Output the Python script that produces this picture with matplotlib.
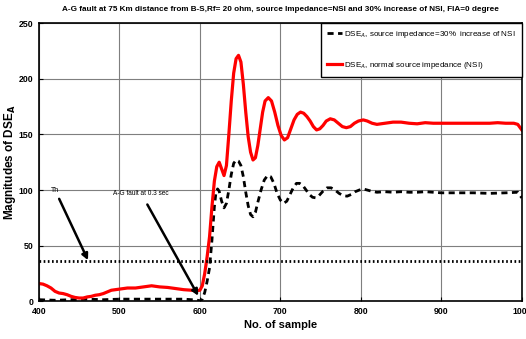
import matplotlib
matplotlib.use("Agg")
import matplotlib.pyplot as plt

# samples and magnitudes
x_nsi = [400, 405, 410, 415, 420, 425, 430, 435, 440, 445, 450, 455, 460, 465, 470,
         475, 480, 485, 490, 495, 500, 510, 520, 530, 540, 550, 560, 570, 580, 590,
         595, 600, 603, 606, 609, 612, 615, 618, 621, 624, 627, 630, 633, 636, 639,
         642, 645, 648, 651, 654, 657, 660, 663, 666, 669, 672, 675, 678, 681, 685,
         689, 693, 697, 701, 705, 709, 713, 717, 721, 725, 729, 733, 737, 741, 745,
         749, 753, 757, 762, 767, 772, 777, 782, 787, 792, 797, 803, 808, 814, 820,
         830, 840, 850, 860, 870, 880, 890, 900, 920, 940, 960, 970, 980, 990, 995, 1000]
y_nsi = [16, 15.5, 14, 12, 9, 7.5, 7, 6, 4.5, 3.5, 3, 3, 4, 4.5, 5.5,
         6, 7, 8.5, 10, 10.5, 11, 12, 12, 13, 14, 13, 12.5, 11.5, 10.5, 10,
         9.5, 10, 14, 25, 40, 58, 85, 108, 121, 125, 119, 113, 122, 150, 180,
         205, 218, 221, 215, 195, 170, 148, 134, 127, 129, 140, 155, 170, 180, 183,
         180, 170, 158, 149, 145, 147, 155, 163, 168, 170, 169, 166, 162, 157, 154,
         155, 158, 162, 164, 163, 160, 157, 156, 157, 160, 162, 163, 162, 160, 159,
         160, 161, 161, 160, 159.5, 160.5, 160, 160, 160, 160, 160, 160.5, 160, 160, 159, 154]

x_30 = [400, 420, 440, 460, 480, 500, 520, 540, 560, 580, 590, 597, 600, 603, 606,
        609, 612, 615, 618, 620, 622, 624, 627, 630, 633, 636, 639, 642, 645, 648,
        651, 654, 657, 660, 663, 666, 669, 672, 676, 680, 684, 688, 692, 696, 700,
        704, 708, 712, 716, 720, 724, 728, 732, 736, 740, 744, 748, 753, 758, 763,
        768, 773, 778, 783, 788, 793, 798, 803, 808, 813, 820, 830, 840, 850, 860,
        870, 880, 890, 900, 920, 940, 960, 980, 995, 1000]
y_30 = [1.5, 1, 1.5, 2, 1.5, 2, 2, 2, 2, 2, 1.5, 1, 0.5, 2, 8,
        18, 30, 55, 85, 98, 101, 99, 90, 84, 88, 100, 114, 124, 127, 126,
        122, 112, 98, 86, 78, 76, 80, 89, 100, 109, 113, 112, 106, 97, 91,
        88, 90, 96, 102, 106, 106, 104, 100, 96, 93.5, 93, 95, 99, 102, 102,
        100, 97, 95, 94.5, 96, 98.5, 100, 101, 100, 99, 98, 98.5, 98, 98.5, 98,
        98, 98.5, 98, 97.5, 97.5, 97.5, 97, 97.5, 98, 93]

threshold = 36.5

fnt = "Liberation Sans"

fig = plt.figure(figsize=(5.26, 3.39), dpi=100)
ax = fig.add_axes([0.074, 0.111, 0.918, 0.821])

ax.plot(x_30, y_30, color="black", lw=2, linestyle=(0, (2.2, 1.6)),
        label=r"DSE$_A$, source impedance=30%  increase of NSI")
ax.plot(x_nsi, y_nsi, color="red", lw=2.3,
        label=r"DSE$_A$, normal source impedance (NSI)")
ax.axhline(threshold, color="black", lw=2, linestyle=(0, (0.6, 0.9)))

ax.set_xlim(400, 1000)
ax.set_ylim(0, 250)
ax.set_xticks(range(400, 1001, 100))
ax.set_yticks(range(0, 251, 50))
ax.grid(True, color="#7f7f7f", lw=0.8)
ax.tick_params(direction="in", length=3, labelsize=6.3, pad=4)
for lbl in ax.get_xticklabels() + ax.get_yticklabels():
    lbl.set_family(fnt)
    lbl.set_fontweight("bold")
for s in ax.spines.values():
    s.set_linewidth(1.2)

ax.annotate("Th", xy=(461, 37), xytext=(420, 100), fontsize=5, family=fnt,
            ha="center", va="center",
            arrowprops=dict(arrowstyle="-|>", color="black", lw=1.8,
                            mutation_scale=9, shrinkA=2, shrinkB=0))
ax.annotate("A-G fault at 0.3 sec", xy=(598, 5), xytext=(527, 97), fontsize=4.7,
            family=fnt, ha="center", va="center",
            arrowprops=dict(arrowstyle="-|>", color="black", lw=1.8,
                            mutation_scale=9, shrinkA=4, shrinkB=0))

leg = ax.legend(loc="upper right", frameon=True, fancybox=False,
                edgecolor="black", handlelength=1.8, handletextpad=0.3,
                borderpad=0.75, labelspacing=2.5, borderaxespad=0.0,
                prop={"family": fnt, "size": 5.8})
leg.get_frame().set_linewidth(1.0)
leg.get_frame().set_alpha(1)

ax.set_title("A-G fault at 75 Km distance from B-S,Rf= 20 ohm, source Impedance=NSI and 30% increase of NSI, FIA=0 degree",
             fontsize=5.9, fontweight="bold", family=fnt, pad=9)
ax.set_xlabel("No. of sample", fontsize=8, fontweight="bold", family=fnt, labelpad=3)
ax.set_ylabel(r"Magnitudes of DSE$_\mathbf{A}$", fontsize=8.5, fontweight="bold", family=fnt)
ax.yaxis.set_label_coords(-0.043, 0.5)

fig.savefig("out.png", dpi=100)
